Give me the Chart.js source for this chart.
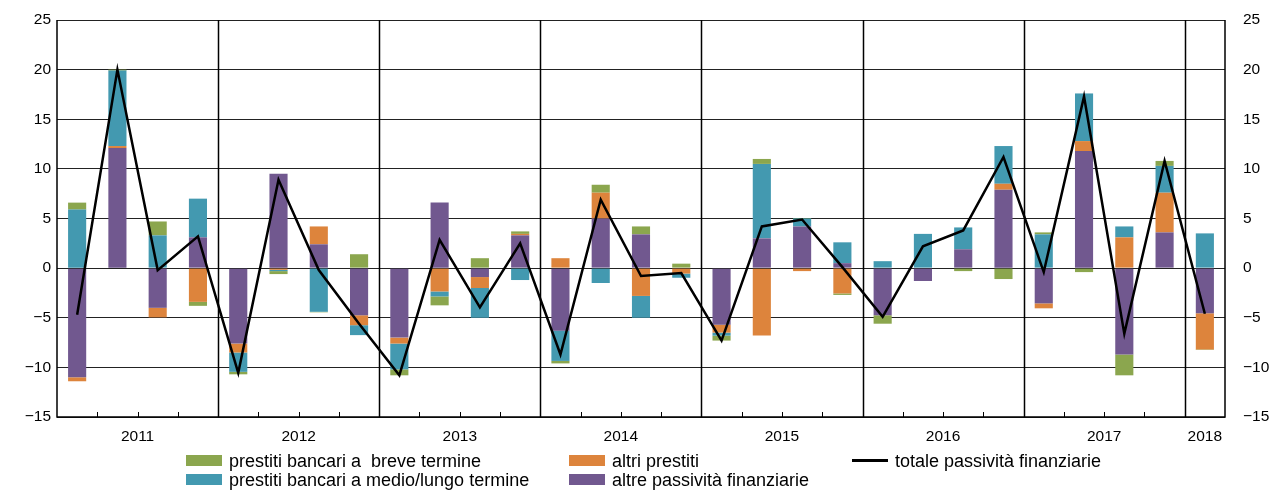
<!DOCTYPE html>
<html><head><meta charset="utf-8">
<script src="https://cdn.jsdelivr.net/npm/chart.js@4"></script>
<style>
body{margin:0;background:#fff;font-family:"Liberation Sans",Arial,sans-serif;}
#wrap{position:relative;width:1271px;height:490px;}
#leg{position:absolute;left:0;top:452px;width:1271px;font-size:18px;color:#000;}
.it{position:absolute;white-space:nowrap;line-height:19px;}
.sw{display:inline-block;width:36px;height:11px;vertical-align:middle;margin-right:7px;position:relative;top:-2px;}
.ln{display:inline-block;width:36px;height:2.5px;background:#000;vertical-align:middle;margin-right:7px;position:relative;top:-2px;}
</style></head><body>
<div id="wrap"><canvas id="c" width="1271" height="490"></canvas>
<div id="leg">
<div class="it" style="left:186px;top:0"><span class="sw" style="background:#8ba64e"></span>prestiti bancari a &nbsp;breve termine</div>
<div class="it" style="left:186px;top:19px"><span class="sw" style="background:#4399b0"></span>prestiti bancari a medio/lungo termine</div>
<div class="it" style="left:569px;top:0"><span class="sw" style="background:#dd843c"></span>altri prestiti</div>
<div class="it" style="left:569px;top:19px"><span class="sw" style="background:#71588f"></span>altre passività finanziarie</div>
<div class="it" style="left:852px;top:0"><span class="ln"></span>totale passività finanziarie</div>
</div></div>
<script>
const quarters = ["2011Q1","2011Q2","2011Q3","2011Q4","2012Q1","2012Q2","2012Q3","2012Q4","2013Q1","2013Q2","2013Q3","2013Q4","2014Q1","2014Q2","2014Q3","2014Q4","2015Q1","2015Q2","2015Q3","2015Q4","2016Q1","2016Q2","2016Q3","2016Q4","2017Q1","2017Q2","2017Q3","2017Q4","2018Q1"];
const years = ["2011","2012","2013","2014","2015","2016","2017","2018"];
const altrePassivita = [-11.0,12.1,-4.0,3.1,-7.6,9.5,2.4,-4.75,-7.0,6.6,-0.9,3.3,-6.3,5.0,3.4,0.0,-5.7,3.0,4.2,0.5,-4.75,-1.3,1.9,7.9,-3.55,11.8,-8.7,3.6,-4.55];
const altriPrestiti = [-0.4,0.2,-0.96,-3.4,-0.9,-0.17,1.8,-1.0,-0.6,-2.35,-1.1,0.15,1.0,2.6,-2.8,-0.55,-0.8,-6.8,-0.3,-2.55,0.0,0.0,0.0,0.6,-0.5,1.0,3.1,4.0,-3.65];
const bancariMedioLungo = [5.9,7.6,3.3,3.9,-1.95,-0.13,-4.4,-1.0,-2.6,-0.5,-3.0,-1.2,-3.05,-1.5,-2.2,-0.42,-0.3,7.5,0.8,2.1,0.7,3.45,2.2,3.8,3.4,4.8,1.1,2.7,3.5];
const bancariBreve = [0.7,0.1,1.4,-0.4,-0.25,-0.3,-0.05,1.4,-0.6,-0.9,1.0,0.25,-0.25,0.8,0.8,0.45,-0.5,0.5,0.05,-0.15,-0.85,0.0,-0.3,-1.1,0.2,-0.4,-2.1,0.5,-0.05];
const totale = [-4.7,20.0,-0.2,3.2,-10.55,8.9,-0.2,-5.6,-10.8,2.85,-3.95,2.5,-8.7,6.9,-0.8,-0.5,-7.3,4.2,4.9,0.1,-4.9,2.2,3.8,11.2,-0.4,17.3,-6.6,10.8,-4.6];
const yTicks = [-15,-10,-5,0,5,10,15,20,25];

const FONT = {family:"'Liberation Sans', Arial, sans-serif", size:15.5};
const yearPlugin = {
  id:'years',
  afterDatasetsDraw(chart){
    const {ctx, chartArea:a, scales:{x}} = chart;
    const step = x.getPixelForValue(1)-x.getPixelForValue(0);
    ctx.save();
    ctx.strokeStyle='#000'; ctx.lineWidth=1.5;
    for(let i=4;i<quarters.length;i+=4){
      const px = Math.round(x.getPixelForValue(i)-step/2)+0.5;
      ctx.beginPath(); ctx.moveTo(px,a.top); ctx.lineTo(px,a.bottom); ctx.stroke();
    }
    ctx.lineWidth=1;
    for(let i=1;i<quarters.length;i++){
      if(i%4===0) continue;
      const px = Math.round(x.getPixelForValue(i)-step/2)+0.5;
      ctx.beginPath(); ctx.moveTo(px,a.bottom); ctx.lineTo(px,a.bottom-5); ctx.stroke();
    }
    ctx.lineWidth=1.5;
    ctx.beginPath(); ctx.moveTo(a.left,a.top); ctx.lineTo(a.left,a.bottom); ctx.lineTo(a.right,a.bottom); ctx.lineTo(a.right,a.top); ctx.stroke();
    ctx.fillStyle='#000'; ctx.font=`${FONT.size}px ${FONT.family}`; ctx.textAlign='center'; ctx.textBaseline='top';
    years.forEach((y,k)=>{
      const first=k*4, last=Math.min(k*4+3, quarters.length-1);
      const cx=(x.getPixelForValue(first)+x.getPixelForValue(last))/2;
      ctx.fillText(y,cx,a.bottom+12);
    });
    ctx.restore();
  }
};
const yTickOpts = {font:FONT,color:'#000',callback:v=>String(v).replace('-','\u2212'),padding:6};
new Chart(document.getElementById('c'),{
  type:'bar',
  data:{labels:quarters,datasets:[
    {type:'line',label:'totale passività finanziarie',data:totale,borderColor:'#000',borderWidth:2.5,pointRadius:0,tension:0,stack:'line',order:0},
    {label:'altre passività finanziarie',data:altrePassivita,backgroundColor:'#71588f',stack:'s',order:1},
    {label:'altri prestiti',data:altriPrestiti,backgroundColor:'#dd843c',stack:'s',order:1},
    {label:'prestiti bancari a medio/lungo termine',data:bancariMedioLungo,backgroundColor:'#4399b0',stack:'s',order:1},
    {label:'prestiti bancari a  breve termine',data:bancariBreve,backgroundColor:'#8ba64e',stack:'s',order:1}
  ]},
  options:{
    responsive:false,animation:false,
    layout:{padding:{top:20,left:0,right:0,bottom:0}},
    plugins:{legend:{display:false},tooltip:{enabled:false}},
    datasets:{bar:{barPercentage:0.45,categoryPercentage:1}},
    scales:{
      x:{stacked:true,grid:{display:false},border:{display:false},ticks:{display:false},
         afterFit(s){s.height=73;}},
      y:{stacked:true,min:-15,max:25,afterBuildTicks(s){s.ticks=yTicks.map(v=>({value:v}));},
         grid:{color:'#222',lineWidth:1,drawTicks:false},border:{display:false},
         ticks:yTickOpts,afterFit(s){s.width=57;}},
      y2:{position:'right',min:-15,max:25,afterBuildTicks(s){s.ticks=yTicks.map(v=>({value:v}));},
         grid:{display:false},border:{display:false},
         ticks:{...yTickOpts,padding:10},afterFit(s){s.width=46;}}
    }
  },
  plugins:[yearPlugin]
});
</script></body></html>
